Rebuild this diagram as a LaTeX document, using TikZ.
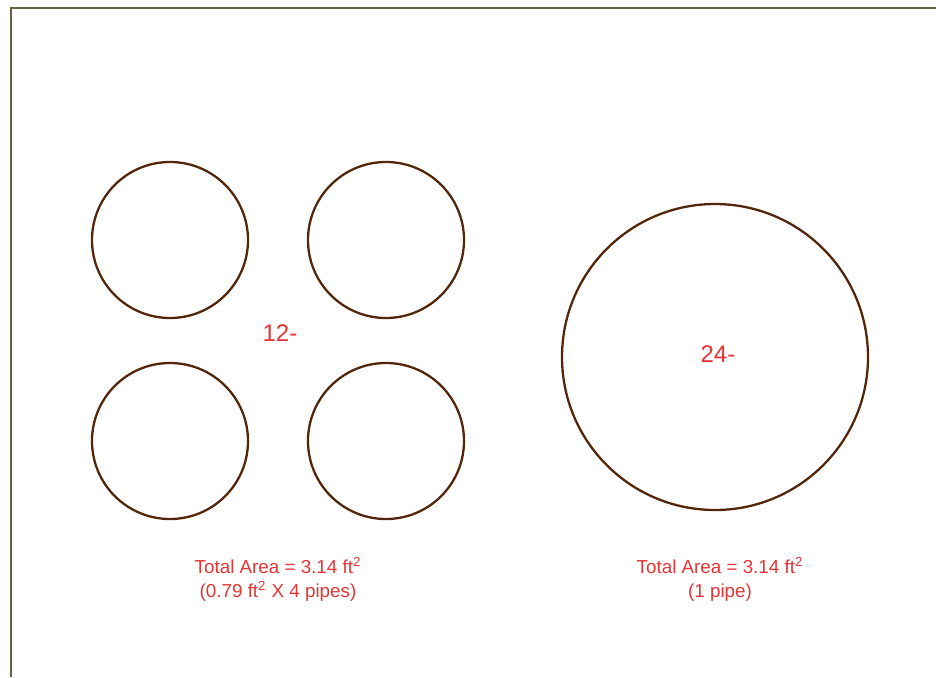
\documentclass[tikz,border=0pt]{standalone}
\usepackage{fontspec}
\setmainfont{Liberation Sans}
\usepackage{tikz}
\usetikzlibrary{
	positioning
}
\definecolor{PipeBrown}{RGB}{82,38,10}
\definecolor{AreaRed}{RGB}{228,52,52}
\definecolor{FrameOlive}{RGB}{98,98,66}

\begin{document}
\begin{tikzpicture}[x=0.02cm,y=-0.02cm]
	\tikzset{
		pipe/.style={
			circle,
			draw=PipeBrown,
			line width=1.3pt,
			inner sep=0pt
		},
		redtext/.style={
			text=AreaRed,
			align=center,
			inner sep=0pt,
			font=\fontsize{10.7}{13.5}\selectfont
		}
	}
	
	\useasboundingbox (0,0) rectangle (936,677);
	
	% frame
	\draw[
	FrameOlive,
	line width=1.1pt
	] (11,677) -- (11,8) -- (936,8);
	
	% four small pipes
	\node[pipe, minimum size=156*0.02cm] (PipeA) at (170,240) {};
	\node[pipe, minimum size=156*0.02cm] (PipeB) at (386,240) {};
	\node[pipe, minimum size=156*0.02cm] (PipeC) at (170,441) {};
	\node[pipe, minimum size=156*0.02cm] (PipeD) at (386,441) {};
	
	% one large pipe
	\node[pipe, minimum size=306*0.02cm] (PipeBig) at (715,357) {};
	
	\node[
	redtext,
	font=\fontsize{13.7}{16}\selectfont
	] (Small) at (280,333) {12-};
	
	\node[
	redtext,
	font=\fontsize{13.7}{16}\selectfont
	] (Big) at (718,354) {24-};
	
	\node[
	redtext
	] (SmallArea) at (278,579) {Total Area = 3.14 ft\textsuperscript{2}\\(0.79 ft\textsuperscript{2} X 4 pipes)};
	
	\node[
	redtext
	] (BigArea) at (720,579) {Total Area = 3.14 ft\textsuperscript{2}\\(1 pipe)};
	
\end{tikzpicture}
\end{document}
